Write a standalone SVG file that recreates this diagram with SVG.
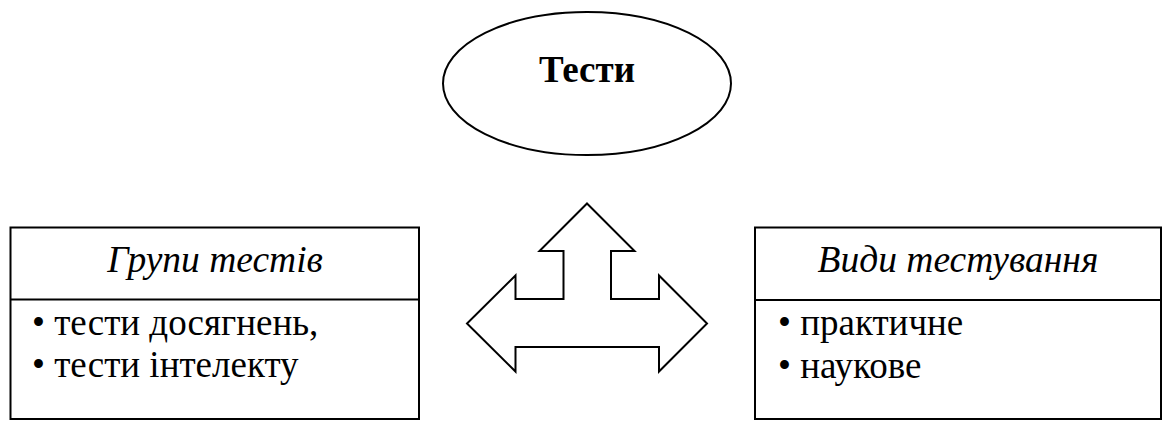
<svg xmlns="http://www.w3.org/2000/svg" width="1163" height="421" viewBox="0 0 1163 421">
<style>
.shape{fill:#fff;stroke:#000;stroke-width:2}
.line{stroke:#000;stroke-width:2}
.t{font-family:"Liberation Serif","Times New Roman","DejaVu Serif",serif;fill:#000}
.title{font-size:37px;font-weight:bold}
.head{font-size:37.5px;font-style:italic}
.body{font-size:37px}
</style>
<rect width="1163" height="421" fill="#fff"/>
<g id="node-tests">
<ellipse class="shape" cx="587" cy="83.5" rx="144" ry="71.5"/>
<text class="t title" x="587" y="82" text-anchor="middle">Тести</text>
</g>
<g id="node-groups">
<rect class="shape" x="10.5" y="227.5" width="408.5" height="191.5"/>
<line class="line" x1="10.5" y1="299.5" x2="419" y2="299.5"/>
<text class="t head" x="215" y="272" text-anchor="middle">Групи тестів</text>
<text class="t body" x="32" y="335">• тести досягнень,</text>
<text class="t body" x="32" y="377">• тести інтелекту</text>
</g>
<g id="node-kinds">
<rect class="shape" x="755" y="227.5" width="406" height="191.5"/>
<line class="line" x1="755" y1="300" x2="1161" y2="300"/>
<text class="t head" x="958" y="272" text-anchor="middle">Види тестування</text>
<text class="t body" x="778" y="335">• практичне</text>
<text class="t body" x="778" y="378">• наукове</text>
</g>
<g id="connectors">
<path class="shape" stroke-linejoin="miter" d="M587,203.5 L634.5,251 L611,251 L611,299 L659,299 L659,275.5 L707,323.5 L659,371.5 L659,347 L515.5,347 L515.5,371.5 L467,323.5 L515.5,275.5 L515.5,299 L563.5,299 L563.5,251 L539.5,251 Z"/>
</g>
</svg>
